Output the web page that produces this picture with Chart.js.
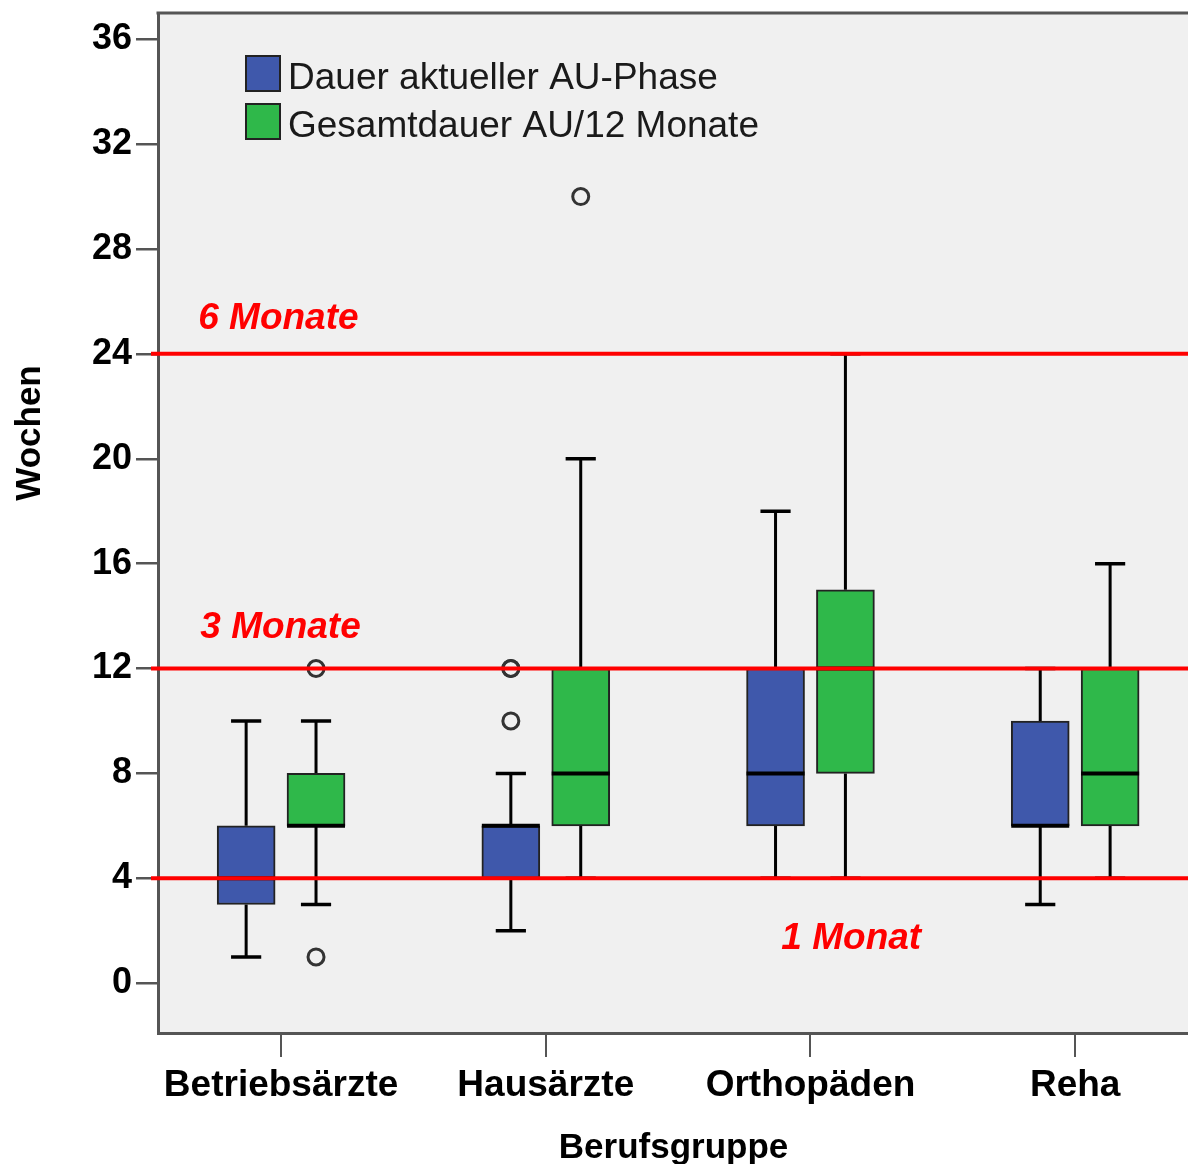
<!DOCTYPE html>
<html>
<head>
<meta charset="utf-8">
<script src="https://cdn.jsdelivr.net/npm/chart.js@4.4.1/dist/chart.umd.min.js"></script>
<style>
  html, body { margin: 0; padding: 0; background: #fff; overflow: hidden; }
  #wrap { width: 1200px; height: 1164px; }
</style>
</head>
<body>
<div id="wrap"><canvas id="chart" width="1200" height="1164"></canvas></div>
<script>
// data
const groups = ['Betriebsärzte', 'Hausärzte', 'Orthopäden', 'Reha'];
const seriesNames = ['Dauer aktueller AU-Phase', 'Gesamtdauer AU/12 Monate'];
// [min, q1, median, q3, max] per group
const dauerStats   = [[1, 3, 4, 6, 10], [2, 4, 6, 6, 8], [4, 6, 8, 12, 18], [3, 6, 6, 10, 12]];
const gesamtStats  = [[3, 6, 6, 8, 10], [4, 6, 8, 12, 20], [4, 8, 12, 15, 24], [4, 6, 8, 12, 16]];
const dauerOutliers  = [[], [10, 12, 12], [], []];
const gesamtOutliers = [[12, 1], [30], [], []];
const yTicks = [0, 4, 8, 12, 16, 20, 24, 28, 32, 36];
const refValues = [4, 12, 24];
const refLabels = ['1 Monat', '3 Monate', '6 Monate'];
// where the red labels sit, in axis units
const refLabelX = [1.89, -0.305, -0.313];
const refLabelY = [1.71, 13.56, 25.33];

const colors = ['#3f58ab', '#2fb84a'];
const off = 0.132;   // half distance between the two boxes of a group
const capHalf = 0.057;

const canvas = document.getElementById('chart');

function boxData(stats, shift) {
  return stats.map((s, i) => ({ x: i + shift, y: [s[1], s[3]] }));
}
function outlierData(list, shift) {
  const pts = [];
  list.forEach((vals, i) => vals.forEach(v => pts.push({ x: i + shift, y: v })));
  return pts;
}

const extras = {
  id: 'extras',
  beforeDraw(chart) {
    const { ctx, chartArea: a } = chart;
    ctx.save();
    ctx.fillStyle = '#f0f0f0';
    ctx.fillRect(a.left, a.top, a.right - a.left, a.bottom - a.top);
    ctx.restore();
  },
  beforeDatasetsDraw(chart) {
    // whiskers + caps
    const { ctx } = chart;
    const xs = chart.scales.x, ys = chart.scales.y;
    ctx.save();
    ctx.strokeStyle = '#000';
    [[dauerStats, -off], [gesamtStats, off]].forEach(([stats, shift]) => {
      stats.forEach((s, i) => {
        const cx = xs.getPixelForValue(i + shift);
        const w = xs.getPixelForValue(i + shift + capHalf) - cx;
        ctx.lineWidth = 3;
        ctx.beginPath();
        ctx.moveTo(cx, ys.getPixelForValue(s[3]));
        ctx.lineTo(cx, ys.getPixelForValue(s[4]));
        ctx.moveTo(cx, ys.getPixelForValue(s[0]));
        ctx.lineTo(cx, ys.getPixelForValue(s[1]));
        ctx.stroke();
        ctx.lineWidth = 3.5;
        ctx.beginPath();
        [s[0], s[4]].forEach(v => {
          const py = ys.getPixelForValue(v);
          ctx.moveTo(cx - w, py);
          ctx.lineTo(cx + w, py);
        });
        ctx.stroke();
      });
    });
    ctx.restore();
  },
  afterDatasetsDraw(chart) {
    const { ctx, chartArea: a } = chart;
    const xs = chart.scales.x, ys = chart.scales.y;
    ctx.save();
    // medians
    ctx.strokeStyle = '#000';
    ctx.lineWidth = 4;
    [[dauerStats, 0], [gesamtStats, 1]].forEach(([stats, di]) => {
      const meta = chart.getDatasetMeta(di);
      stats.forEach((s, i) => {
        const bar = meta.data[i];
        const py = ys.getPixelForValue(s[2]);
        ctx.beginPath();
        ctx.moveTo(bar.x - bar.width / 2, py);
        ctx.lineTo(bar.x + bar.width / 2, py);
        ctx.stroke();
      });
    });
    // reference lines
    ctx.strokeStyle = '#ff0000';
    ctx.lineWidth = 4;
    refValues.forEach(v => {
      const py = ys.getPixelForValue(v);
      ctx.beginPath();
      ctx.moveTo(a.left - 7, py);
      ctx.lineTo(chart.width, py);
      ctx.stroke();
    });
    ctx.fillStyle = '#ff0000';
    ctx.font = 'italic bold 37px "Liberation Sans", Arial, sans-serif';
    ctx.textBaseline = 'middle';
    ctx.textAlign = 'left';
    refLabels.forEach((t, i) => {
      ctx.fillText(t, xs.getPixelForValue(refLabelX[i]), ys.getPixelForValue(refLabelY[i]));
    });
    // top frame line
    ctx.strokeStyle = '#555';
    ctx.lineWidth = 3;
    ctx.beginPath();
    ctx.moveTo(a.left - 1.5, a.top);
    ctx.lineTo(chart.width, a.top);
    ctx.stroke();
    // legend
    ctx.font = '37px "Liberation Sans", Arial, sans-serif';
    seriesNames.forEach((name, i) => {
      const top = a.top + 43 + i * 48;
      ctx.fillStyle = colors[i];
      ctx.fillRect(a.left + 88, top, 34, 35);
      ctx.strokeStyle = '#222';
      ctx.lineWidth = 2;
      ctx.strokeRect(a.left + 88, top, 34, 35);
      ctx.fillStyle = '#1a1a1a';
      ctx.fillText(name, a.left + 130, top + 23);
    });
    // y axis title
    ctx.translate(30, 433);
    ctx.rotate(-Math.PI / 2);
    ctx.textAlign = 'center';
    ctx.fillStyle = '#000';
    ctx.font = 'bold 35px "Liberation Sans", Arial, sans-serif';
    ctx.fillText('Wochen', 0, 0);
    ctx.restore();
  }
};

const boxCommon = {
  borderColor: '#222',
  borderWidth: 2,
  borderSkipped: false,
  grouped: false,
  categoryPercentage: 1,
  barPercentage: 1,
  maxBarThickness: 58,
  order: 2
};
const outlierCommon = {
  type: 'scatter',
  showLine: false,
  pointRadius: 8,
  pointBorderWidth: 3,
  borderColor: '#333',
  backgroundColor: 'rgba(0,0,0,0)',
  order: 1
};

new Chart(canvas, {
  type: 'bar',
  data: {
    datasets: [
      Object.assign({ label: seriesNames[0], data: boxData(dauerStats, -off), backgroundColor: colors[0] }, boxCommon),
      Object.assign({ label: seriesNames[1], data: boxData(gesamtStats, off), backgroundColor: colors[1] }, boxCommon),
      Object.assign({ label: 'Ausreißer 1', data: outlierData(dauerOutliers, -off) }, outlierCommon),
      Object.assign({ label: 'Ausreißer 2', data: outlierData(gesamtOutliers, off) }, outlierCommon)
    ]
  },
  options: {
    responsive: false,
    animation: false,
    layout: { padding: { top: 13, left: 0, right: 4, bottom: 0 } },
    plugins: { legend: { display: false }, tooltip: { enabled: false } },
    scales: {
      x: {
        type: 'linear',
        min: -0.465,
        max: 3.43,
        offset: false,
        afterFit: s => { s.height = 131; },
        afterBuildTicks: s => { s.ticks = groups.map((g, i) => ({ value: i })); },
        grid: { display: true, drawOnChartArea: false, drawTicks: true, tickLength: 24, color: '#555', lineWidth: 2, offset: false },
        border: { display: true, color: '#555', width: 3 },
        ticks: {
          callback: v => groups[v],
          font: { family: '"Liberation Sans", Arial, sans-serif', size: 37, weight: 'bold' },
          color: '#000',
          padding: 7,
          maxRotation: 0,
          autoSkip: false
        },
        title: {
          display: true,
          text: 'Berufsgruppe',
          font: { family: '"Liberation Sans", Arial, sans-serif', size: 35, weight: 'bold', lineHeight: 0.9 },
          color: '#000',
          padding: { top: 0, bottom: 0 }
        }
      },
      y: {
        min: -1.9,
        max: 37,
        afterFit: s => { s.width = 158; },
        afterBuildTicks: s => { s.ticks = yTicks.map(v => ({ value: v })); },
        grid: { display: true, drawOnChartArea: false, drawTicks: true, tickLength: 22, color: '#555', lineWidth: 2.5 },
        border: { display: true, color: '#555', width: 3 },
        ticks: {
          font: { family: '"Liberation Sans", Arial, sans-serif', size: 36, weight: 'bold', lineHeight: 0.5 },
          color: '#000',
          padding: 4
        }
      }
    }
  },
  plugins: [extras]
});
</script>
</body>
</html>
